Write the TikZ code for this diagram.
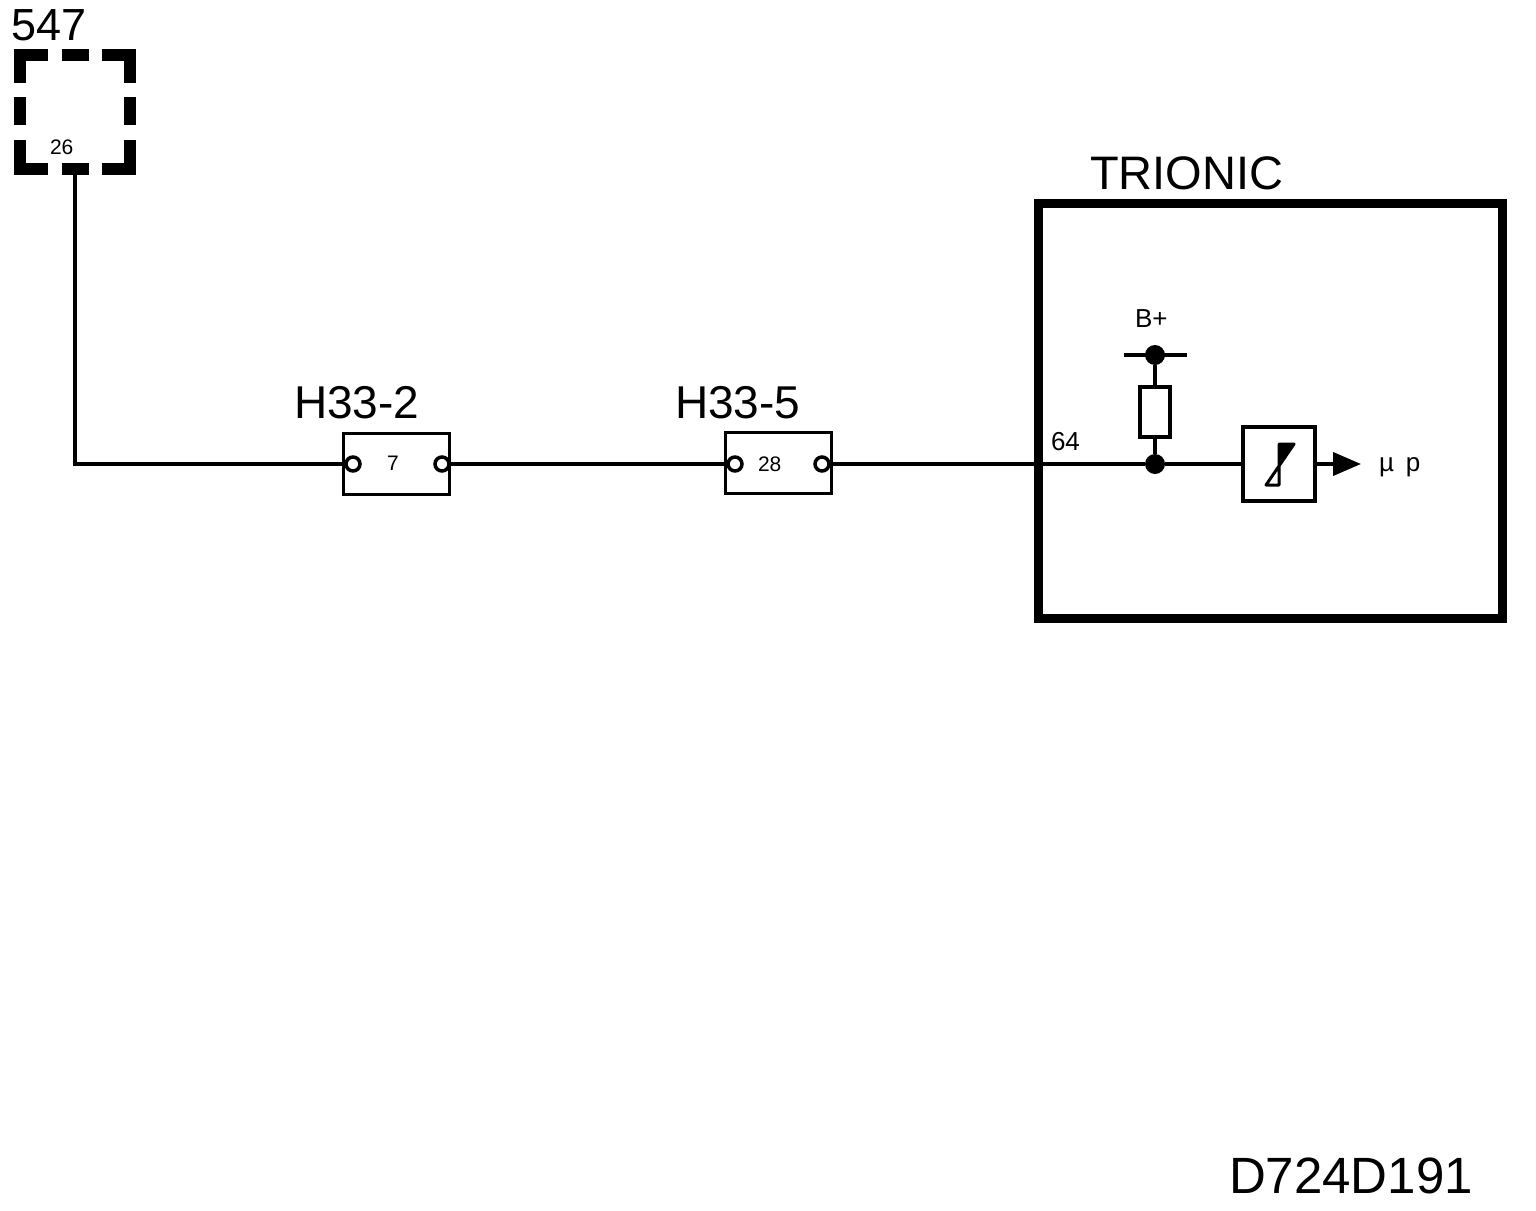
\documentclass[tikz,border=0pt]{standalone}
\usepackage{fontspec}
\setmainfont{Liberation Sans}
\usetikzlibrary{arrows.meta}

\begin{document}
\begin{tikzpicture}[x=0.5pt,y=-0.5pt,line width=2pt,
  wire/.style={line width=2pt},
  plug/.style={draw,rectangle,line width=1.75pt,minimum width=53pt,minimum height=30.5pt,inner sep=0pt,outer sep=0pt},
  pin/.style={draw,circle,line width=1.75pt,fill=white,minimum size=7pt,inner sep=0pt,outer sep=0pt},
  joint/.style={circle,fill=black,minimum size=10pt,inner sep=0pt,outer sep=0pt},
  relaydash/.style={line width=6pt},
  big/.style={anchor=base west,inner sep=0pt,font=\fontsize{23pt}{25pt}\selectfont},
  small/.style={anchor=base west,inner sep=0pt,font=\fontsize{13pt}{15pt}\selectfont},
  tiny/.style={anchor=base west,inner sep=0pt,font=\fontsize{10.5pt}{12pt}\selectfont}]
\useasboundingbox (0,0) rectangle (1536,1210);

\node [anchor=base west,inner sep=0pt,font=\fontsize{22.5pt}{24pt}\selectfont] (relaylabel) at (9,40) {547};
\node [tiny] (relaypin) at (48,154) {26};
\node [minimum width=54.75pt,minimum height=57.25pt,inner sep=0pt,outer sep=0pt] (relay) at (74.75,111.75) {};

\draw[relaydash] (20,83) -- (20,54.5) -- (48,54.5);
\draw[relaydash] (62,54.5) -- (89,54.5);
\draw[relaydash] (102,54.5) -- (129.5,54.5) -- (129.5,83);
\draw[relaydash] (20,97) -- (20,125);
\draw[relaydash] (129.5,97) -- (129.5,125);
\draw[relaydash] (20,140) -- (20,169) -- (48,169);
\draw[relaydash] (62,169) -- (89,169);
\draw[relaydash] (102,169) -- (129.5,169) -- (129.5,140);

\node [plug] (plugA) at (396.5,464) {};
\node [pin] (pinAl) at (353,464) {};
\node [pin] (pinAr) at (442,464) {};
\node [tiny] at (385,470) {7};
\node [big] at (292,418) {H33-2};

\node [plug] (plugB) at (778.5,463) {};
\node [pin] (pinBl) at (735,464) {};
\node [pin] (pinBr) at (822,464) {};
\node [tiny] at (756,471) {28};
\node [big] at (673,418) {H33-5};

\node [draw,rectangle,line width=4.5pt,minimum width=232pt,minimum height=207.5pt,inner sep=0pt,outer sep=0pt] (trionic) at (1270,411) {};
\node [anchor=base west,inner sep=0pt,font=\fontsize{23.5pt}{25pt}\selectfont] at (1088,189) {TRIONIC};
\node [small] at (1049,450) {64};

\node [joint] (dotB) at (1155,355) {};
\node [joint] (dotW) at (1155,464) {};
\node [small] at (1133,327) {B+};
\coordinate (busL) at (1124,355);
\coordinate (busR) at (1187,355);
\node [draw,rectangle,line width=2pt,fill=white,minimum width=15pt,minimum height=25pt,inner sep=0pt,outer sep=0pt] (res) at (1155,412) {};

\node [draw,rectangle,line width=2pt,minimum width=36pt,minimum height=37pt,inner sep=0pt,outer sep=0pt] (comp) at (1279,464) {};
\coordinate (tip) at (1361,464);
\node [small] (mup) at (1377,471) {µ\hspace{6pt}p};

\node [anchor=base west,inner sep=0pt,font=\fontsize{25.5pt}{27pt}\selectfont] at (1227,1193) {D724D191};

\draw[wire] (relay.south) |- (pinAl);
\draw[wire] (pinAr) -- (pinBl);
\draw[wire] (pinBr) -- (dotW);
\draw[wire] (dotW) -- (comp);
\draw[wire] (busL) -- (busR);
\draw[wire] (dotB) -- (res);
\draw[wire] (res) -- (dotW);
\draw[wire,-{Triangle[length=14pt,width=11.5pt]}] (comp) -- (tip);

\draw[line width=1.5pt,line join=round] (1279,444) -- (1294,444) -- (1266,485) -- (1279,485) -- cycle;
\fill (1279,444) -- (1294,444) -- (1279,466) -- cycle;

\end{tikzpicture}
\end{document}
